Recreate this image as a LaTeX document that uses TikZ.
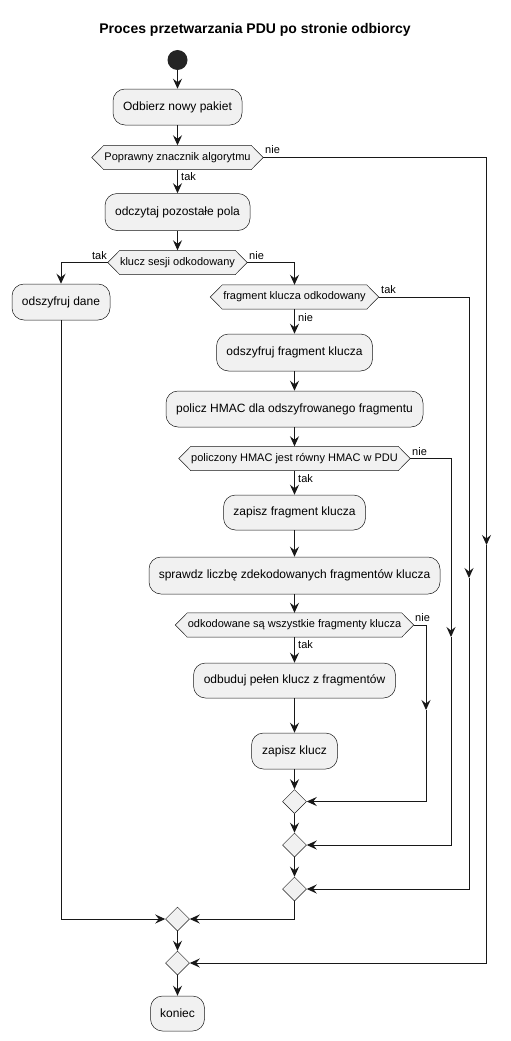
\documentclass[tikz,border=0pt]{standalone}
\usepackage{fontspec}
\setmainfont{Liberation Sans}
\usetikzlibrary{arrows.meta,shapes.geometric,backgrounds}
\definecolor{boxfill}{HTML}{F1F1F1}
\definecolor{ln}{HTML}{181818}
\begin{document}
\begin{tikzpicture}[x=1pt,y=-1pt,
  act/.style={draw=ln,line width=0.5pt,fill=boxfill,rounded corners=12pt,inner sep=0pt,
    font=\fontsize{12}{14}\selectfont,minimum height=36pt},
  dec/.style={inner sep=0pt,font=\fontsize{11}{13}\selectfont,minimum height=24pt},
  merge/.style={diamond,draw=ln,line width=0.5pt,fill=boxfill,minimum width=24pt,minimum height=24pt,inner sep=0pt,aspect=1},
  lab/.style={font=\fontsize{11}{13}\selectfont,inner sep=0pt},
  conn/.style={draw=ln,line width=1pt,-{Stealth[length=10pt,width=9pt,inset=3.5pt]}},
  plain/.style={draw=ln,line width=1pt},
  hexfill/.style={draw=ln,line width=0.5pt,fill=boxfill}
]
\useasboundingbox (0,0) rectangle (511,1041);
\node[font=\bfseries\fontsize{14}{16}\selectfont] (title) at (255,30) {Proces przetwarzania PDU po stronie odbiorcy};
\node[circle,fill=ln!95,minimum size=20pt,inner sep=0pt] (start) at (177.5,60) {};
\node[act,minimum width=129pt] (b1) at (177.5,107) {Odbierz nowy pakiet};
\node[dec,minimum width=171pt] (d1) at (177.5,157.5) {Poprawny znacznik algorytmu};
\node[act,minimum width=145pt,minimum height=37pt] (b2) at (177.5,212) {odczytaj pozostałe pola};
\node[dec,minimum width=139pt] (d2) at (177.5,262.5) {klucz sesji odkodowany};
\node[act,minimum width=98pt] (b3) at (61,302) {odszyfruj dane};
\node[dec,minimum width=168pt] (d3) at (294.5,297) {fragment klucza odkodowany};
\node[act,minimum width=156pt,minimum height=37pt] (b4) at (294.5,352.5) {odszyfruj fragment klucza};
\node[act,minimum width=257pt] (b5) at (294.5,409) {policz HMAC dla odszyfrowanego fragmentu};
\node[dec,minimum width=231pt] (d4) at (294.5,458.5) {policzony HMAC jest równy HMAC w PDU};
\node[act,minimum width=142pt,minimum height=35pt] (b6) at (294.5,512.5) {zapisz fragment klucza};
\node[act,minimum width=291pt,minimum height=37pt] (b7) at (294.5,575.5) {sprawdz liczbę zdekodowanych fragmentów klucza};
\node[dec,minimum width=238pt] (d5) at (294.5,625) {odkodowane są wszystkie fragmenty klucza};
\node[act,minimum width=202pt,minimum height=35pt] (b8) at (294.5,680.5) {odbuduj pełen klucz z fragmentów};
\node[act,minimum width=86pt] (b9) at (294.5,751) {zapisz klucz};
\node[merge] (m1) at (294.5,801.5) {};
\node[merge] (m2) at (294.5,845) {};
\node[merge] (m3) at (294.5,889) {};
\node[merge] (m4) at (177.5,919) {};
\node[merge] (m5) at (177.5,963) {};
\node[act,minimum width=54pt,minimum height=35pt] (b10) at (177.5,1013.5) {koniec};
\begin{scope}[on background layer]
\foreach \d in {d1,d2,d3,d4,d5}{
  \path[hexfill] (\d.west) -- ([xshift=12pt]\d.north west) -- ([xshift=-12pt]\d.north east) -- (\d.east) -- ([xshift=-12pt]\d.south east) -- ([xshift=12pt]\d.south west) -- cycle;
}
\end{scope}
\coordinate (r1) at (486.5,545);
\coordinate (r2) at (469,578);
\coordinate (r3) at (451,637);
\coordinate (r4) at (426,710);
% main flow
\draw[conn] (start) -- (b1);
\draw[conn] (b1) -- (d1);
\draw[conn] (d1.south) -- (b2.north);
\draw[conn] (d1.east) -| (r1);
\draw[conn] (r1) |- (m5.east);
\draw[conn] (b2) -- (d2);
\draw[conn] (d2.west) -| (b3.north);
\draw[conn] (d2.east) -| (d3.north);
\draw[conn] (d3.east) -| (r2);
\draw[conn] (r2) |- (m3.east);
\draw[conn] (d3.south) -- (b4.north);
\draw[conn] (b4) -- (b5);
\draw[conn] (b5) -- (d4);
\draw[conn] (d4.east) -| (r3);
\draw[conn] (r3) |- (m2.east);
\draw[conn] (d4.south) -- (b6.north);
\draw[conn] (b6) -- (b7);
\draw[conn] (b7) -- (d5);
\draw[conn] (d5.east) -| (r4);
\draw[conn] (r4) |- (m1.east);
\draw[conn] (d5.south) -- (b8.north);
\draw[conn] (b8) -- (b9);
\draw[conn] (b9) -- (m1);
\draw[conn] (m1) -- (m2);
\draw[conn] (m2) -- (m3);
\draw[conn] (m3.south) |- (m4.east);
\draw[conn] (b3.south) |- (m4.west);
\draw[conn] (m4) -- (m5);
\draw[conn] (m5) -- (b10);
% labels
\node[lab,anchor=south west] (l1) at (265,154) {nie};
\node[lab,anchor=west] (l2) at (181,177) {tak};
\node[lab,anchor=south east] (l3) at (107,260) {tak};
\node[lab,anchor=south west] (l4) at (249,260) {nie};
\node[lab,anchor=south west] (l5) at (381,294) {tak};
\node[lab,anchor=west] (l6) at (298,318) {nie};
\node[lab,anchor=south west] (l7) at (412,456) {nie};
\node[lab,anchor=west] (l8) at (298,478.5) {tak};
\node[lab,anchor=south west] (l9) at (415,622) {nie};
\node[lab,anchor=west] (l10) at (298,645) {tak};
\end{tikzpicture}
\end{document}
